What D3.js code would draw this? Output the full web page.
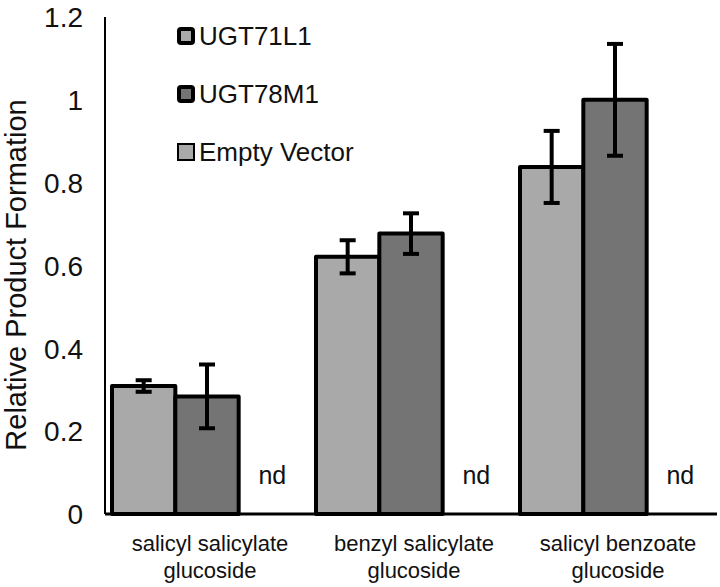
<!DOCTYPE html>
<html>
<head>
<meta charset="utf-8">
<script src="https://cdn.jsdelivr.net/npm/d3@7"></script>
<style>
  html, body { margin: 0; padding: 0; background: #fff; }
  svg { display: block; font-family: "Liberation Sans", Arial, sans-serif; }
</style>
</head>
<body>
<svg id="chart" width="720" height="587"></svg>
<script>
// ---- data ----
const categories = [["salicyl salicylate", "glucoside"], ["benzyl salicylate", "glucoside"], ["salicyl benzoate", "glucoside"]];
const categoryKeys = ["salicyl salicylate glucoside", "benzyl salicylate glucoside", "salicyl benzoate glucoside"];
const seriesNames = ["UGT71L1", "UGT78M1", "Empty Vector"];
const ugt71l1 = [0.309, 0.621, 0.838];
const ugt71l1Err = [0.014, 0.040, 0.087];
const ugt78m1 = [0.284, 0.677, 1.0];
const ugt78m1Err = [0.077, 0.049, 0.135];
const emptyVector = [null, null, null]; // not detected
const yTicks = [0, 0.2, 0.4, 0.6, 0.8, 1, 1.2];
const ndLabel = "nd";

const seriesValues = [ugt71l1, ugt78m1, emptyVector];
const seriesErrors = [ugt71l1Err, ugt78m1Err, [null, null, null]];
const fills = ["#a9a9a9", "#747474", "#a9a9a9"];

const svg = d3.select("#chart");
const x0 = 105, x1 = 717, yBase = 514, yTop = 17;

const x = d3.scaleBand().domain(categoryKeys).range([x0, x1]).padding(0);
const xs = d3.scaleBand().domain(seriesNames).range([7, x.bandwidth() - 7]).padding(0);
const y = d3.scaleLinear().domain([0, 1.2]).range([yBase, yTop]);

// y axis tick labels
const yAxis = d3.axisLeft(y).tickValues(yTicks).tickSize(0).tickPadding(0)
  .tickFormat(d => String(d));
const gy = svg.append("g").attr("transform", `translate(83,0)`).call(yAxis);
gy.select(".domain").remove();
gy.selectAll("text").attr("font-size", 28).attr("fill", "#111")
  .attr("font-family", "Liberation Sans, Arial, sans-serif").attr("dy", "0.35em");

// y axis line
svg.append("line").attr("x1", x0).attr("x2", x0).attr("y1", yTop).attr("y2", yBase)
  .attr("stroke", "#000").attr("stroke-width", 2);

// bars
const data = [];
categoryKeys.forEach((c, i) => {
  seriesNames.forEach((s, j) => {
    data.push({ cat: c, ser: s, v: seriesValues[j][i], e: seriesErrors[j][i], fill: fills[j] });
  });
});

const bars = svg.append("g");
bars.selectAll("rect").data(data.filter(d => d.v != null)).join("rect")
  .attr("x", d => x(d.cat) + xs(d.ser))
  .attr("y", d => y(d.v))
  .attr("width", xs.bandwidth())
  .attr("height", d => yBase - y(d.v))
  .attr("fill", d => d.fill)
  .attr("stroke", "#000")
  .attr("stroke-width", 4)
  .attr("stroke-linejoin", "round");

// baseline
svg.append("line").attr("x1", x0).attr("x2", x1).attr("y1", yBase).attr("y2", yBase)
  .attr("stroke", "#000").attr("stroke-width", 3);

// error bars
const eg = svg.append("g").attr("stroke", "#000").attr("stroke-width", 4);
data.filter(d => d.e != null).forEach(d => {
  const cx = x(d.cat) + xs(d.ser) + xs.bandwidth() / 2;
  const yt = y(d.v + d.e), yb = y(d.v - d.e);
  eg.append("line").attr("x1", cx).attr("x2", cx).attr("y1", yt).attr("y2", yb);
  eg.append("line").attr("x1", cx - 8).attr("x2", cx + 8).attr("y1", yt).attr("y2", yt);
  eg.append("line").attr("x1", cx - 8).attr("x2", cx + 8).attr("y1", yb).attr("y2", yb);
});

// nd labels
svg.append("g").selectAll("text").data(data.filter(d => d.v == null)).join("text")
  .attr("x", d => x(d.cat) + xs(d.ser) + xs.bandwidth() / 2 + 2)
  .attr("y", 484)
  .attr("text-anchor", "middle")
  .attr("font-size", 25)
  .attr("fill", "#111")
  .text(ndLabel);

// category labels
const cl = svg.append("g").selectAll("text").data(categoryKeys).join("text")
  .attr("x", d => x(d) + x.bandwidth() / 2 + 3)
  .attr("y", 551)
  .attr("text-anchor", "middle")
  .attr("font-size", 22)
  .attr("fill", "#111");
cl.each(function(d, i) {
  const t = d3.select(this);
  categories[i].forEach((line, k) => {
    t.append("tspan").attr("x", x(d) + x.bandwidth() / 2 + 3).attr("dy", k === 0 ? 0 : 27).text(line);
  });
});

// y title
svg.append("text")
  .attr("transform", "translate(26,275) rotate(-90)")
  .attr("text-anchor", "middle")
  .attr("font-size", 29)
  .attr("fill", "#111")
  .text("Relative Product Formation");

// legend
const legendY = [36, 94, 152];
const lg = svg.append("g");
seriesNames.forEach((s, j) => {
  const cy = legendY[j];
  const thick = j < 2;
  const sw = thick ? 4 : 2;
  const size = 18 - sw;
  lg.append("rect")
    .attr("x", 186 - size / 2).attr("y", cy - size / 2)
    .attr("width", size).attr("height", size)
    .attr("fill", fills[j]).attr("stroke", "#000").attr("stroke-width", sw)
    .attr("rx", thick ? 2 : 0);
  lg.append("text").attr("x", 199).attr("y", cy + 9)
    .attr("font-size", 26).attr("fill", "#111").text(s);
});
</script>
</body>
</html>
